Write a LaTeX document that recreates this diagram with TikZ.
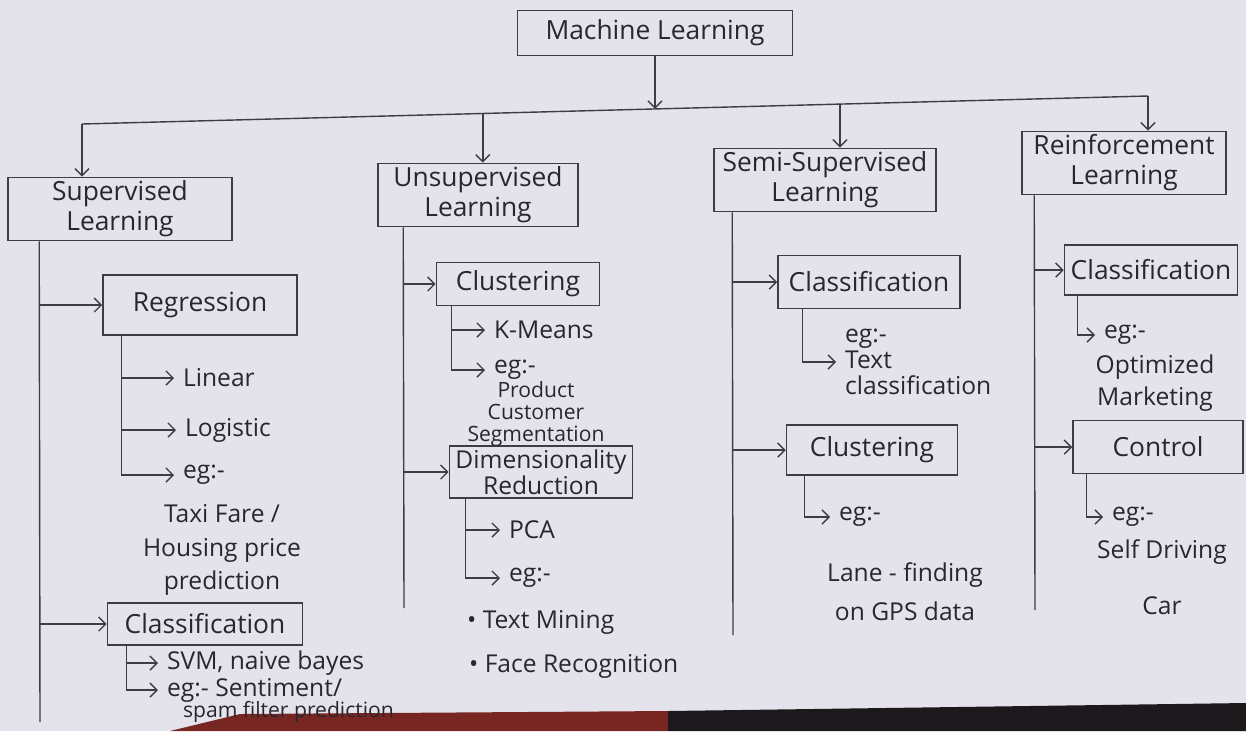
\documentclass[tikz,border=0pt]{standalone}
\usepackage{fontspec}
\setmainfont{Open Sans}
\usetikzlibrary{arrows.meta}
\definecolor{paper}{RGB}{228,227,235}
\definecolor{pencil}{RGB}{62,60,70}
\definecolor{ink}{RGB}{40,38,48}
\definecolor{cloth}{RGB}{120,38,34}
\definecolor{shadow}{RGB}{28,24,28}

\begin{document}
\begin{tikzpicture}[x=0.02cm, y=-0.02cm,
		>={Straight Barb[length=4pt,width=8pt]},
		line/.style={draw=pencil, line width=0.8pt},
		box/.style={draw=pencil, line width=0.9pt, text=ink, align=center, inner sep=2pt, font=\fontsize{15}{17}\selectfont},
		item/.style={text=ink, anchor=west, inner ysep=2pt, inner xsep=5pt, font=\fontsize{14}{16}\selectfont},
		note/.style={text=ink, align=center, inner sep=1pt, font=\fontsize{14}{18}\selectfont}]
		\useasboundingbox (0,0) rectangle (1246,731);
		\fill[paper] (0,0) rectangle (1246,731);
		\fill[cloth] (170,731) -- (240,714) -- (668,711) -- (668,731) -- cycle;
		\fill[shadow] (668,711) -- (1246,703) -- (1246,731) -- (668,731) -- cycle;

		% top level
		\node [box, minimum width=5.5cm, minimum height=0.9cm] (ml) at (655,33) {Machine Learning};
		\node [box, minimum width=4.48cm, minimum height=1.24cm] (sup) at (120,209) {Supervised\\Learning};
		\node [box, minimum width=4cm, minimum height=1.08cm] (unsup) at (478,195) {Unsupervised\\Learning};
		\node [box, minimum width=4.44cm, minimum height=1.2cm] (semi) at (825,180) {Semi-Supervised\\Learning};
		\node [box, minimum width=4.08cm, minimum height=1.1cm] (reinf) at (1124,163) {Reinforcement\\Learning};

		\coordinate (barL) at (82,124);
		\coordinate (barR) at (1148,96);
		\draw [line] (barL) -- coordinate[pos=0.5375] (dM) coordinate[pos=0.376] (dU) coordinate[pos=0.711] (dS) (barR);
		\draw [line, ->] (ml.south) -- (ml.south |- dM);
		\draw [line, ->] (barL) -- (barL |- sup.north);
		\draw [line, ->] (dU) -- (dU |- unsup.north);
		\draw [line, ->] (dS) -- (dS |- semi.north);
		\draw [line, ->] (barR) -- (barR |- reinf.north);

		% supervised
		\node [box, minimum width=3.88cm, minimum height=1.2cm] (reg) at (200,305) {Regression};
		\node [box, minimum width=3.9cm, minimum height=0.84cm] (scls) at (205,624) {Classification};
		\node [item] (lin) at (174,378) {Linear};
		\node [item] (logi) at (176,430) {Logistic};
		\node [item] (regeg) at (174,475) {eg:-};
		\node [note, font=\fontsize{14}{19}\selectfont] (regex) at (222,550) {Taxi Fare /\\Housing price\\prediction};
		\node [item] (svm) at (158,663) {SVM, naive bayes};
		\node [item] (scleg) at (158,690) {eg:- Sentiment/};
		\node [item, font=\fontsize{12}{14}\selectfont] (spam) at (174,712) {spam filter prediction};
		\coordinate (supB) at (40,722);
		\draw [line] ([xshift=0.64cm]sup.south west) -- (supB);
		\draw [line, ->] (supB |- reg.west) -- (reg.west);
		\draw [line, ->] (supB |- scls.west) -- (scls.west);
		\foreach \t in {lin, logi, regeg}
			\draw [line, ->] ([xshift=0.38cm]reg.south west) |- (\t.west);
		\foreach \t in {svm, scleg}
			\draw [line, ->] ([xshift=0.39cm]scls.south west) |- (\t.west);

		% unsupervised
		\node [box, minimum width=3.26cm, minimum height=0.86cm] (clus) at (518,284) {Clustering};
		\node [box, minimum width=3.66cm, minimum height=0.94cm, font=\fontsize{14}{15}\selectfont] (dim) at (541,472) {Dimensionality\\Reduction};
		\node [item] (km) at (485,330) {K-Means};
		\node [item] (ueg) at (485,370) {eg:-};
		\node [note, font=\fontsize{12}{12.5}\selectfont] (uex) at (536,414) {Product\\Customer\\Segmentation};
		\node [item] (pca) at (500,530) {PCA};
		\node [item] (deg) at (500,578) {eg:-};
		\node [item] (tm) at (458,622) {• Text Mining};
		\node [item] (fr) at (460,666) {• Face Recognition};
		\coordinate (unsB) at (404,608);
		\draw [line] ([xshift=0.52cm]unsup.south west) -- (unsB);
		\draw [line, ->] (unsB |- clus.west) -- (clus.west);
		\draw [line, ->] (unsB |- dim.west) -- (dim.west);
		\foreach \t in {km, ueg}
			\draw [line, ->] ([xshift=0.31cm]clus.south west) |- (\t.west);
		\foreach \t in {pca, deg}
			\draw [line, ->] ([xshift=0.33cm]dim.south west) |- (\t.west);

		% semi-supervised
		\node [box, minimum width=3.64cm, minimum height=1.06cm] (mcls) at (869,282) {Classification};
		\node [box, minimum width=3.42cm, minimum height=1cm] (mclu) at (872,450) {Clustering};
		\node [item, align=left, font=\fontsize{14}{15}\selectfont] (mex) at (836,362) {eg:-\\Text\\classification};
		\node [item] (meg) at (830,517) {eg:-};
		\node [note, font=\fontsize{14}{22}\selectfont] (mlane) at (905,592) {Lane - finding\\on GPS data};
		\coordinate (semB) at (733,635);
		\draw [line] ([xshift=0.38cm]semi.south west) -- (semB);
		\draw [line, ->] (semB |- mcls.west) -- (mcls.west);
		\draw [line, ->] (semB |- mclu.west) -- (mclu.west);
		\draw [line, ->] ([xshift=0.5cm]mcls.south west) |- (mex.west);
		\draw [line, ->] ([xshift=0.37cm]mclu.south west) |- (meg.west);

		% reinforcement
		\node [box, minimum width=3.46cm, minimum height=1cm] (rcls) at (1151,270) {Classification};
		\node [box, minimum width=3.4cm, minimum height=1.06cm] (ctrl) at (1158,447) {Control};
		\node [item] (reg1) at (1095,335) {eg:-};
		\node [note] (rex1) at (1155,383) {Optimized\\Marketing};
		\node [item] (reg2) at (1103,517) {eg:-};
		\node [note, font=\fontsize{14}{32}\selectfont] (rex2) at (1162,577) {Self Driving\\Car};
		\coordinate (renB) at (1035,610);
		\draw [line] ([xshift=0.26cm]reinf.south west) -- (renB);
		\draw [line, ->] (renB |- rcls.west) -- (rcls.west);
		\draw [line, ->] (renB |- ctrl.west) -- (ctrl.west);
		\draw [line, ->] ([xshift=0.27cm]rcls.south west) |- (reg1.west);
		\draw [line, ->] ([xshift=0.28cm]ctrl.south west) |- (reg2.west);
	\end{tikzpicture}
\end{document}
